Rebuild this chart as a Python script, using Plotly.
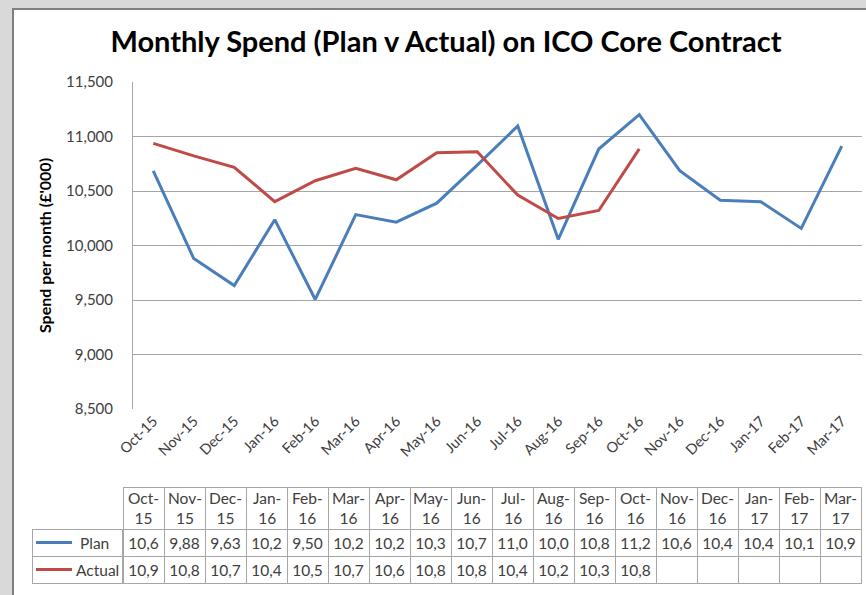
import plotly.graph_objects as go

# ---- data ----
months = ["Oct-15", "Nov-15", "Dec-15", "Jan-16", "Feb-16", "Mar-16", "Apr-16", "May-16", "Jun-16",
          "Jul-16", "Aug-16", "Sep-16", "Oct-16", "Nov-16", "Dec-16", "Jan-17", "Feb-17", "Mar-17"]
plan = [10684, 9880, 9632, 10237, 9505, 10283, 10214, 10388, 10738,
        11096, 10057, 10885, 11201, 10686, 10416, 10402, 10157, 10911]
actual = [10937, 10822, 10718, 10402, 10594, 10708, 10603, 10852, 10860,
          10462, 10248, 10321, 10887]
y_ticks = [8500, 9000, 9500, 10000, 10500, 11000, 11500]

title = "Monthly Spend (Plan v Actual) on ICO Core Contract"
y_title = "Spend per month (£'000)"
series_names = ["Plan", "Actual"]

# ---- layout helpers (pixel -> paper) ----
W, H = 866, 595
BLUE = "#4A7EBB"
RED = "#BE4B48"
GRID = "#A6A6A6"
TXT = "#404040"
FONT = "Lato"
TAB_X0, TAB_X1 = 123, 861
TAB_TOP, HEAD_H, ROW_H = 487, 42, 27


def px(x):
    return x / W


def py(y):
    return 1 - y / H


def cell_text(v):
    # Excel cuts the number to the narrow column width
    return f"{v:,.0f}"[:4]


fig = go.Figure()
fig.add_trace(go.Scatter(x=months, y=plan, mode="lines", name=series_names[0],
                         line=dict(color=BLUE, width=3), showlegend=False))
fig.add_trace(go.Scatter(x=months[:len(actual)], y=actual, mode="lines", name=series_names[1],
                         line=dict(color=RED, width=3), showlegend=False))

# data table (header text added as annotations so the two-line header keeps its height)
plan_txt = [cell_text(v) for v in plan]
act_txt = [cell_text(v) for v in actual] + [""] * (len(months) - len(actual))
fig.add_trace(go.Table(
    domain=dict(x=[px(TAB_X0), px(TAB_X1)], y=[py(594), py(TAB_TOP)]),
    columnwidth=[1] * len(months),
    header=dict(values=[""] * len(months), height=HEAD_H, align="center",
                line=dict(color=GRID, width=1), fill=dict(color="white"),
                font=dict(family=FONT, size=15, color=TXT)),
    cells=dict(values=[[p, a] for p, a in zip(plan_txt, act_txt)], height=ROW_H, align="center",
               line=dict(color=GRID, width=1), fill=dict(color="white"),
               font=dict(family=FONT, size=15.5, color=TXT)),
))
# legend column of the table
fig.add_trace(go.Table(
    domain=dict(x=[px(32), px(TAB_X0)], y=[py(594), py(TAB_TOP + HEAD_H)]),
    header=dict(values=[""], height=ROW_H, line=dict(color=GRID, width=1), fill=dict(color="white"),
                font=dict(family=FONT, size=15, color=TXT)),
    cells=dict(values=[[""]], height=ROW_H, line=dict(color=GRID, width=1), fill=dict(color="white"),
               font=dict(family=FONT, size=15, color=TXT)),
))

row1_y = TAB_TOP + HEAD_H + ROW_H / 2
row2_y = row1_y + ROW_H
shapes = [
    # window frame
    dict(type="rect", xref="paper", yref="paper", x0=0, x1=1, y0=py(8), y1=1,
         fillcolor="#D9D9D9", line=dict(width=0), layer="above"),
    dict(type="rect", xref="paper", yref="paper", x0=0, x1=px(12), y0=0, y1=1,
         fillcolor="#D9D9D9", line=dict(width=0), layer="above"),
    dict(type="line", xref="paper", yref="paper", x0=px(12), x1=1, y0=py(9), y1=py(9),
         line=dict(color="#7F7F7F", width=2), layer="above"),
    dict(type="line", xref="paper", yref="paper", x0=px(13), x1=px(13), y0=0, y1=py(9),
         line=dict(color="#7F7F7F", width=2), layer="above"),
    # legend keys in table
    dict(type="line", xref="paper", yref="paper", x0=px(36), x1=px(72), y0=py(row1_y), y1=py(row1_y),
         line=dict(color=BLUE, width=3)),
    dict(type="line", xref="paper", yref="paper", x0=px(36), x1=px(72), y0=py(row2_y), y1=py(row2_y),
         line=dict(color=RED, width=3)),
]
annotations = [
    dict(text=series_names[0], xref="paper", yref="paper", x=px(94), y=py(row1_y), showarrow=False,
         xanchor="center", yanchor="middle", font=dict(family=FONT, size=15.5, color=TXT)),
    dict(text=series_names[1], xref="paper", yref="paper", x=px(97), y=py(row2_y), showarrow=False,
         xanchor="center", yanchor="middle", font=dict(family=FONT, size=15.5, color=TXT)),
]
col_w = (TAB_X1 - TAB_X0) / len(months)
for i, m in enumerate(months):
    annotations.append(dict(
        text=m.replace("-", "-<br>"), xref="paper", yref="paper",
        x=px(TAB_X0 + col_w * (i + 0.5)), y=py(TAB_TOP + HEAD_H / 2),
        showarrow=False, xanchor="center", yanchor="middle", align="center",
        font=dict(family=FONT, size=15.5, color=TXT)))

fig.update_layout(
    width=W, height=H,
    margin=dict(l=0, r=0, t=0, b=0, autoexpand=False),
    paper_bgcolor="white", plot_bgcolor="white",
    title=dict(text=title, x=px(446), xanchor="center", y=py(42), yanchor="middle",
               xref="paper", yref="paper",
               font=dict(family=FONT, size=29, color="black", weight="bold")),
    xaxis=dict(domain=[px(133), px(862)], range=[-0.5, len(months) - 0.5], automargin=False,
               tickangle=-45, showgrid=False, showline=False, zeroline=False,
               tickfont=dict(family=FONT, size=14.5, color=TXT), ticks=""),
    yaxis=dict(domain=[py(409), py(82)], range=[y_ticks[0], y_ticks[-1]], automargin=False,
               tickvals=y_ticks, tickformat=",", showgrid=True, gridcolor=GRID, gridwidth=1,
               showline=True, linecolor=GRID, linewidth=1, zeroline=False,
               ticklabelstandoff=16,
               tickfont=dict(family=FONT, size=15, color=TXT),
               title=dict(text=y_title, standoff=10,
                          font=dict(family=FONT, size=16, color="black", weight="bold"))),
    shapes=shapes, annotations=annotations,
)

fig.write_html("out.html", config={"displayModeBar": False},
               post_script="document.body.style.margin='0';")
